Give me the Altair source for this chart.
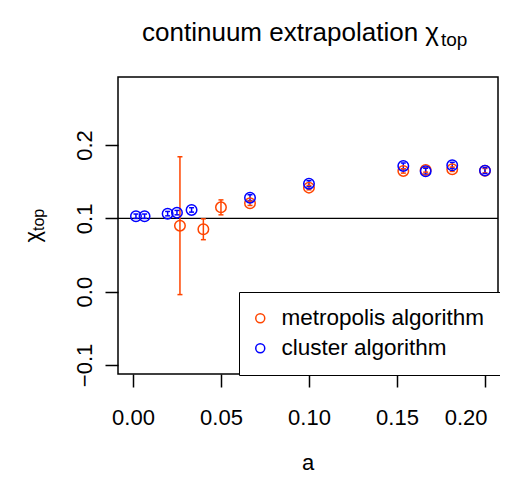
import altair as alt
import pandas as pd

# ---- data ----
a_metro = [0.0267, 0.040, 0.050, 0.0665, 0.100, 0.1536, 0.1663, 0.1814, 0.200]
chi_metro = [0.090, 0.0851, 0.115, 0.1206, 0.1419, 0.1647, 0.166, 0.167, 0.165]
err_metro = [0.094, 0.0142, 0.0102, 0.003, 0.003, 0.003, 0.003, 0.003, 0.003]

a_cluster = [0.0017, 0.0066, 0.0197, 0.025, 0.0333, 0.0665, 0.100, 0.1536, 0.1663, 0.1814, 0.200]
chi_cluster = [0.1029, 0.1029, 0.1064, 0.1078, 0.1115, 0.1282, 0.1473, 0.1715, 0.1643, 0.1724, 0.1651]
err_cluster = [0.003, 0.003, 0.003, 0.003, 0.003, 0.004, 0.004, 0.004, 0.004, 0.004, 0.004]

series_names = ["metropolis algorithm", "cluster algorithm"]
series_colors = ["#FF4500", "#0000FF"]

hline_value = [0.1]

x_ticks = [0.0, 0.05, 0.10, 0.15, 0.20]
y_ticks = [-0.1, 0.0, 0.1, 0.2]
x_domain = [-0.0085, 0.2074]
y_domain = [-0.1123, 0.2928]

title_main = "continuum extrapolation χ"
title_sub = "top"
ylab_main = "χ"
ylab_sub = "top"
xlab = "a"

FONT = "Liberation Sans"

rows = []
for a, c, e in zip(a_metro, chi_metro, err_metro):
    rows.append({"a": a, "chi": c, "lo": c - e, "hi": c + e, "algo": series_names[0]})
for a, c, e in zip(a_cluster, chi_cluster, err_cluster):
    rows.append({"a": a, "chi": c, "lo": c - e, "hi": c + e, "algo": series_names[1]})
df = pd.DataFrame(rows)

xs = alt.Scale(domain=x_domain, nice=False, zero=False)
ys = alt.Scale(domain=y_domain, nice=False, zero=False)

leg = alt.Legend(
    title=None, orient="none", legendX=121, legendY=215,
    padding=15, rowPadding=7, labelFontSize=22.5, labelFont=FONT,
    labelColor="black", labelOffset=10, symbolOffset=-5, labelLimit=400,
    symbolType="circle", symbolSize=81, symbolStrokeWidth=1.5, symbolOpacity=1,
    symbolFillColor="transparent", strokeColor="black", fillColor="white",
)

x_axis = alt.Axis(values=x_ticks, format=".2f", labelFontSize=22, labelFont=FONT,
                  labelColor="black", tickSize=13, tickWidth=1.5, tickColor="black",
                  domain=False, grid=False, title=None, labelPadding=20,
                  labelFlush=14, labelFlushOffset=2, labelOverlap=False)
y_axis = alt.Axis(values=y_ticks, format=".1f", labelFontSize=22, labelFont=FONT,
                  labelColor="black", tickSize=13, tickWidth=1.5, tickColor="black",
                  domain=False, grid=False, title=None, labelAngle=270,
                  labelAlign="center", labelBaseline="alphabetic", labelPadding=14,
                  labelFlush=False, labelOverlap=False)

base = alt.Chart(df)

hline = alt.Chart(pd.DataFrame({"y": hline_value})).mark_rule(
    color="black", strokeWidth=1.3).encode(y=alt.Y("y:Q", scale=ys, axis=y_axis))

bars = base.mark_rule(strokeWidth=1.5, opacity=1).encode(
    x=alt.X("a:Q", scale=xs, axis=x_axis),
    y=alt.Y("lo:Q", scale=ys, axis=y_axis),
    y2="hi:Q",
    stroke=alt.Stroke("algo:N", scale=alt.Scale(domain=series_names, range=series_colors), legend=None),
)
cap_lo = base.mark_tick(orient="horizontal", size=5, thickness=1.5, opacity=1).encode(
    x=alt.X("a:Q", scale=xs),
    y=alt.Y("lo:Q", scale=ys),
    fill=alt.Fill("algo:N", scale=alt.Scale(domain=series_names, range=series_colors), legend=None),
)
cap_hi = base.mark_tick(orient="horizontal", size=5, thickness=1.5, opacity=1).encode(
    x=alt.X("a:Q", scale=xs),
    y=alt.Y("hi:Q", scale=ys),
    fill=alt.Fill("algo:N", scale=alt.Scale(domain=series_names, range=series_colors), legend=None),
)
points = base.mark_point(filled=False, size=110, strokeWidth=1.5, shape="circle", opacity=1).encode(
    x=alt.X("a:Q", scale=xs),
    y=alt.Y("chi:Q", scale=ys),
    color=alt.Color("algo:N", scale=alt.Scale(domain=series_names, range=series_colors),
                    legend=leg, sort=series_names),
)


def label(text, x, y, **mk):
    return alt.Chart(pd.DataFrame({"t": [text]})).mark_text(
        font=FONT, color="black", **mk).encode(
        text="t:N", x=alt.value(x), y=alt.value(y))


t1 = label(title_main, 321, -36, align="right", baseline="alphabetic", fontSize=26)
t2 = label(title_sub, 323, -31, align="left", baseline="alphabetic", fontSize=19)
yl1 = label(ylab_main, -78, 154, align="right", baseline="alphabetic", fontSize=22, angle=270)
yl2 = label(ylab_sub, -74.5, 154, align="left", baseline="alphabetic", fontSize=16, angle=270)
xl = label(xlab, 190, 393, align="center", baseline="alphabetic", fontSize=22)

chart = alt.layer(hline, bars, cap_lo, cap_hi, points, t1, t2, yl1, yl2, xl).resolve_scale(
    color="independent", stroke="independent", fill="independent"
).properties(
    width=380, height=297,
    autosize=alt.AutoSizeParams(type="none"),
    padding={"left": 110, "top": 69, "right": 2, "bottom": 101},
    background="white",
).configure_view(stroke="black", strokeWidth=1.5)

chart.save("out.html", embed_options={"renderer": "svg", "actions": False})
